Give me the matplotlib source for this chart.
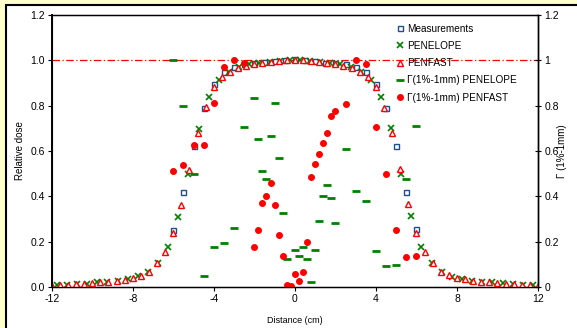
import matplotlib
matplotlib.use("Agg")
import matplotlib.pyplot as plt
from matplotlib.patches import Rectangle

plt.rcParams['font.family'] = ['Liberation Sans', 'DejaVu Sans']

# ---------------- data ----------------
meas_x = [-6.0, -5.5, -5.0, -4.5, -4.0, -3.5, -3.0, -2.5, -2.0, -1.5, -1.0, -0.5, 0.0,
          0.5, 1.0, 1.5, 2.0, 2.5, 3.0, 3.5, 4.0, 4.5, 5.0, 5.5, 6.0]
meas_y = [0.251, 0.420, 0.622, 0.788, 0.895, 0.947, 0.972, 0.985, 0.990, 0.994, 0.997, 1.001, 1.005,
          1.001, 0.997, 0.990, 0.987, 0.982, 0.972, 0.947, 0.894, 0.788, 0.622, 0.419, 0.254]

penelope_x = [-11.75, -11.25, -10.75, -10.25, -9.75, -9.25, -8.75, -8.25, -7.75, -7.25, -6.75, -6.25,
              -5.75, -5.25, -4.75, -4.25, -3.75, -3.25, -2.75, -2.25, -1.75, -1.25, -0.75, -0.25,
              0.25, 0.75, 1.25, 1.75, 2.25, 2.75, 3.25, 3.75, 4.25, 4.75, 5.25, 5.75,
              6.25, 6.75, 7.25, 7.75, 8.25, 8.75, 9.25, 9.75, 10.25, 10.75, 11.25, 11.75]
penelope_y = [0.010, 0.010, 0.012, 0.014, 0.020, 0.022, 0.028, 0.034, 0.048, 0.068, 0.105, 0.178,
              0.310, 0.500, 0.696, 0.837, 0.913, 0.950, 0.972, 0.982, 0.987, 0.993, 0.997, 1.000,
              1.000, 0.997, 0.993, 0.987, 0.982, 0.972, 0.950, 0.913, 0.837, 0.700, 0.500, 0.313,
              0.178, 0.105, 0.068, 0.046, 0.034, 0.028, 0.023, 0.021, 0.016, 0.012, 0.009, 0.009]

penfast_x = [-12.0, -11.6, -11.2, -10.8, -10.4, -10.0, -9.6, -9.2, -8.8, -8.4, -8.0, -7.6, -7.2,
             -6.8, -6.4, -6.0, -5.6, -5.2, -4.8, -4.4, -4.0, -3.6, -3.2, -2.8, -2.4, -2.0,
             -1.6, -1.2, -0.8, -0.4, 0.0, 0.4, 0.8, 1.2, 1.6, 2.0, 2.4, 2.8, 3.2, 3.6, 4.0,
             4.4, 4.8, 5.2, 5.6, 6.0, 6.4, 6.8, 7.2, 7.6, 8.0, 8.4, 8.8, 9.2, 9.6, 10.0,
             10.4, 10.8, 11.2, 11.6, 12.0]
penfast_y = [0.003, 0.010, 0.010, 0.012, 0.013, 0.016, 0.020, 0.022, 0.027, 0.033, 0.040, 0.050, 0.068,
             0.105, 0.155, 0.237, 0.362, 0.516, 0.680, 0.795, 0.883, 0.925, 0.950, 0.965, 0.975, 0.985,
             0.990, 0.994, 0.997, 1.000, 1.000, 1.000, 0.997, 0.994, 0.990, 0.985, 0.975, 0.965, 0.947, 0.925, 0.883,
             0.788, 0.680, 0.519, 0.365, 0.240, 0.153, 0.105, 0.068, 0.053, 0.038, 0.034, 0.028, 0.023, 0.021, 0.016,
             0.014, 0.012, 0.010, 0.009, 0.003]

gamma_pen_x = [-6.0, -5.5, -5.0, -4.5, -4.0, -3.5, -3.0, -2.5, -2.0, -1.8, -1.6, -1.4, -1.2, -1.0,
               -0.8, -0.6, -0.4, 0.0, 0.2, 0.4, 0.6, 0.8, 1.0, 1.2, 1.4, 1.6, 1.8, 2.0,
               2.5, 3.0, 3.5, 4.0, 4.5, 5.0, 5.5, 6.0]
gamma_pen_y = [1.000, 0.800, 0.500, 0.048, 0.178, 0.193, 0.262, 0.704, 0.832, 0.652, 0.512, 0.478, 0.667, 0.810,
               0.567, 0.325, 0.122, 0.165, 0.135, 0.175, 0.125, 0.023, 0.162, 0.293, 0.400, 0.449, 0.394, 0.282,
               0.610, 0.425, 0.378, 0.157, 0.093, 0.096, 0.478, 0.710]

gamma_fast_x = [-6.0, -5.5, -5.0, -4.5, -4.0, -3.5, -3.0, -2.5, -2.0, -1.8, -1.6, -1.4, -1.2, -1.0,
                -0.8, -0.6, -0.4, -0.2, 0.0, 0.2, 0.4, 0.6, 0.8, 1.0, 1.2, 1.4, 1.6, 1.8, 2.0,
                2.5, 3.0, 3.5, 4.0, 4.5, 5.0, 5.5, 6.0]
gamma_fast_y = [0.513, 0.538, 0.626, 0.626, 0.813, 0.972, 1.000, 0.990, 0.175, 0.250, 0.370, 0.400, 0.457, 0.360,
                0.228, 0.138, 0.007, 0.004, 0.056, 0.026, 0.065, 0.200, 0.485, 0.543, 0.587, 0.637, 0.678, 0.756, 0.778,
                0.806, 1.000, 0.982, 0.704, 0.500, 0.250, 0.132, 0.135]

x_ticks = [-12, -8, -4, 0, 4, 8, 12]
y_ticks = [0.0, 0.2, 0.4, 0.6, 0.8, 1.0, 1.2]
right_tick_labels = ['0', '0.2', '0.4', '0.6', '0.8', '1', '1.2']

# ---------------- figure ----------------
W, H = 577, 328
fig = plt.figure(figsize=(W / 100, H / 100), dpi=100, facecolor='#FFFFCC')
panel = Rectangle((6 / W, -0.05), 1.1, (H - 5) / H + 0.05, transform=fig.transFigure,
                  facecolor='white', edgecolor='black', linewidth=1.5, zorder=-5)
fig.patches.append(panel)

ax = fig.add_axes([51.7 / W, (H - 287) / H, (538 - 51.7) / W, (287 - 15) / H])
ax.set_facecolor('white')
ax.set_xlim(-12, 12)
ax.set_ylim(0, 1.2)

red = '#FF0000'
green = '#008000'
navy = '#1F4E8C'

ax.axhline(1.0, color=red, linestyle=(0, (6, 2, 1, 2)), linewidth=0.9, zorder=1)

ax.plot(meas_x, meas_y, linestyle='none', marker='s', markersize=3.6, markerfacecolor='white',
        markeredgecolor=navy, markeredgewidth=1.0, label='Measurements', zorder=3)
ax.plot(penelope_x, penelope_y, linestyle='none', marker='x', markersize=3.8,
        markeredgecolor=green, markeredgewidth=1.2, label='PENELOPE', zorder=4)
ax.plot(penfast_x, penfast_y, linestyle='none', marker='^', markersize=3.8, markerfacecolor='white',
        markeredgecolor=red, markeredgewidth=1.0, label='PENFAST', zorder=5)
ax.plot(gamma_pen_x, gamma_pen_y, linestyle='none', marker='_', markersize=6,
        markeredgecolor=green, markeredgewidth=2.0, label='\u0393(1%-1mm) PENELOPE', zorder=6)
ax.plot(gamma_fast_x, gamma_fast_y, linestyle='none', marker='o', markersize=4,
        markerfacecolor=red, markeredgecolor=red, label='\u0393(1%-1mm) PENFAST', zorder=7)

fs = 7.5
ax.set_xticks(x_ticks)
ax.set_xticklabels([str(t) for t in x_ticks], fontsize=fs)
ax.set_yticks(y_ticks)
ax.set_yticklabels(['%.1f' % t for t in y_ticks], fontsize=fs)
ax.tick_params(axis='both', direction='out', length=3, width=0.8, colors='black', pad=2)
for s in ax.spines.values():
    s.set_color('black')
    s.set_linewidth(1.0)
ax.spines['left'].set_linewidth(1.4)

ax2 = ax.twinx()
ax2.set_ylim(0, 1.2)
ax2.set_yticks(y_ticks)
ax2.set_yticklabels(right_tick_labels, fontsize=fs)
ax2.tick_params(axis='y', direction='inout', length=5, width=0.8, pad=2)
ax2.spines['right'].set_linewidth(1.0)

ax.set_xlabel('Distance (cm)', fontsize=6.5)
ax.xaxis.set_label_coords(0.5, -0.105)
ax.set_ylabel('Relative dose', fontsize=7)
ax.yaxis.set_label_coords(-0.055, 0.5)
ax2.set_ylabel('\u0393 (1%-1mm)', fontsize=7)
ax2.yaxis.set_label_coords(1.04, 0.5)

leg = ax.legend(loc='upper left', bbox_to_anchor=(0.708, 0.968), frameon=False, fontsize=7.2,
                handlelength=0.8, handletextpad=0.3, borderpad=0, borderaxespad=0,
                labelspacing=0.72, numpoints=1)
leg.set_zorder(10)

fig.savefig('out.png', dpi=100, facecolor=fig.get_facecolor())
